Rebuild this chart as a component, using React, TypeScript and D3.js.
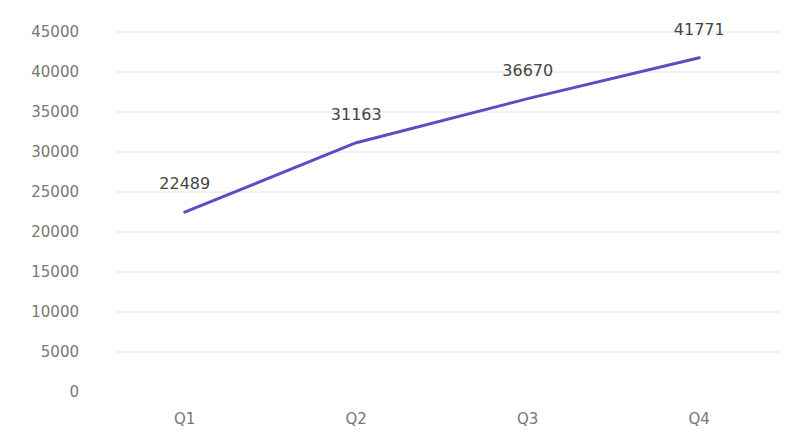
import React from "react";
import * as d3 from "d3";

const categories = ["Q1", "Q2", "Q3", "Q4"];
const values = [22489, 31163, 36670, 41771];
const yTicks = [0, 5000, 10000, 15000, 20000, 25000, 30000, 35000, 40000, 45000];

const W = 799;
const H = 448;

export default function App() {
  const x = d3.scalePoint<string>().domain(categories).range([99, 785]).padding(0.5);
  const y = d3.scaleLinear().domain([0, 45000]).range([392, 32]);
  const line = d3
    .line<number>()
    .x((_, i) => x(categories[i]) as number)
    .y((d) => y(d));

  return (
    <svg
      width={W}
      height={H}
      style={{ position: "absolute", left: 0, top: 0, background: "#fff" }}
      fontFamily="DejaVu Sans, sans-serif"
    >
      {yTicks.map((t) => (
        <g key={t}>
          {t > 0 && (
            <line x1={116} x2={780} y1={y(t)} y2={y(t)} stroke="#e3e3e3" strokeWidth={1} />
          )}
          <text x={79} y={y(t)} dy="0.35em" textAnchor="end" fontSize={15} fill="#777">
            {t}
          </text>
        </g>
      ))}
      {categories.map((c) => (
        <text key={c} x={x(c)} y={419} dy="0.35em" textAnchor="middle" fontSize={15} fill="#777">
          {c}
        </text>
      ))}
      <path d={line(values) || ""} fill="none" stroke="#5a4ec4" strokeWidth={3} strokeLinecap="round" strokeLinejoin="round" />
      {values.map((v, i) => (
        <text
          key={i}
          x={x(categories[i])}
          y={y(v) - 23}
          textAnchor="middle"
          fontSize={16}
          fill="#444"
        >
          {v}
        </text>
      ))}
    </svg>
  );
}
